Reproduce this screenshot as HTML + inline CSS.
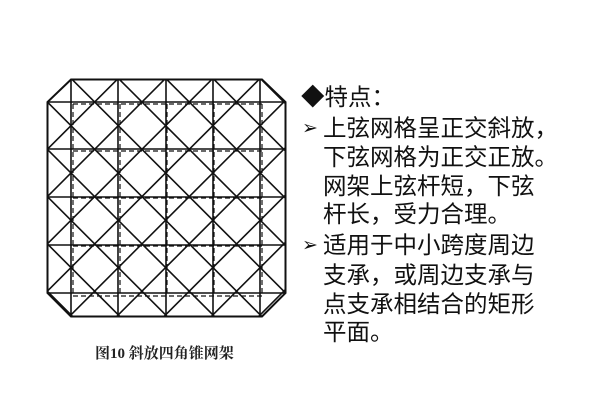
<!DOCTYPE html>
<html><head><meta charset="utf-8"><style>
body{margin:0;width:600px;height:403px;background:#fff;position:relative;overflow:hidden}
.t{position:absolute;font-family:"Liberation Sans","Noto Sans CJK SC",sans-serif;font-size:23.5px;line-height:24px;color:#111;white-space:nowrap}
.a{position:absolute;font-family:"DejaVu Sans",sans-serif;font-size:19px;line-height:24px;color:#111;font-weight:bold}
.c{position:absolute;left:95px;top:342px;font-family:"Liberation Serif","Noto Serif CJK SC",serif;font-weight:bold;font-size:15px;color:#222;white-space:nowrap}
</style></head><body>
<svg width="600" height="403" style="position:absolute;left:0;top:0" id="s">
<defs><clipPath id="cp"><polygon points="71,79.5 262,79.5 285.5,102 285.5,293 262,316.5 71,316.5 47.5,293 47.5,102"/></clipPath></defs>
<g stroke="#111" stroke-width="1.6" fill="none">
<g stroke-dasharray="5,3" stroke-width="1.2">
<line x1="73" y1="104" x2="73" y2="296"/><line x1="120" y1="104" x2="120" y2="296"/><line x1="167" y1="104" x2="167" y2="296"/><line x1="214" y1="104" x2="214" y2="296"/><line x1="262" y1="104" x2="262" y2="296"/>
<line x1="73" y1="104" x2="262" y2="104"/><line x1="73" y1="151" x2="262" y2="151"/><line x1="73" y1="198" x2="262" y2="198"/><line x1="73" y1="246" x2="262" y2="246"/><line x1="73" y1="296" x2="262" y2="296"/>
</g>
<polygon points="71,79.5 262,79.5 285.5,102 285.5,293 262,316.5 71,316.5 47.5,293 47.5,102" stroke-width="2"/>
<g clip-path="url(#cp)">
<line x1="71" y1="79" x2="71" y2="317"/><line x1="118" y1="79" x2="118" y2="317"/><line x1="166" y1="79" x2="166" y2="317"/><line x1="213" y1="79" x2="213" y2="317"/><line x1="260" y1="79" x2="260" y2="317"/>
<line x1="47" y1="102" x2="286" y2="102"/><line x1="47" y1="149" x2="286" y2="149"/><line x1="47" y1="197" x2="286" y2="197"/><line x1="47" y1="245" x2="286" y2="245"/><line x1="47" y1="293" x2="286" y2="293"/>
<g id="d"></g>
</g></g>
<script>
var g=document.getElementById('d'),ns='http://www.w3.org/2000/svg';
function L(a,b,c,d){var l=document.createElementNS(ns,'line');l.setAttribute('x1',a);l.setAttribute('y1',b);l.setAttribute('x2',c);l.setAttribute('y2',d);g.appendChild(l);}
var ox=71,oy=102,s=47.3;
for(var n=-1;n<=8;n++){var k=n+0.5;
 L(ox+(k+1)*s,oy-1*s,ox+(k-6)*s,oy+6*s);
}
for(var n=-5;n<=4;n++){var k=n+0.5;
 L(ox+(k-1)*s,oy-1*s,ox+(k+6)*s,oy+6*s);
}
</script>
</svg>
<div class="t" style="left:301px;top:85px">◆特点：</div>
<div class="a" style="left:302px;top:116px">➢</div>
<div class="t" style="left:323px;top:116px">上弦网格呈正交斜放，</div>
<div class="t" style="left:323px;top:145px">下弦网格为正交正放。</div>
<div class="t" style="left:323px;top:174px">网架上弦杆短，下弦</div>
<div class="t" style="left:323px;top:202px">杆长，受力合理。</div>
<div class="a" style="left:302px;top:233px">➢</div>
<div class="t" style="left:323px;top:233px">适用于中小跨度周边</div>
<div class="t" style="left:323px;top:263px">支承，或周边支承与</div>
<div class="t" style="left:323px;top:292px">点支承相结合的矩形</div>
<div class="t" style="left:323px;top:320px">平面。</div>
<div class="c">图10 斜放四角锥网架</div>
</body></html>
